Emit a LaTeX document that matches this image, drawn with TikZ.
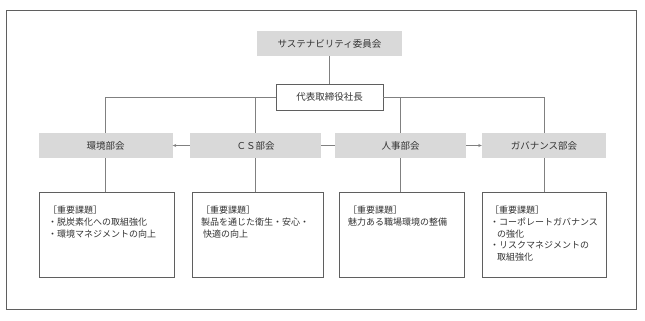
\documentclass[tikz,border=0pt]{standalone}
\usepackage{fontspec}
\usepackage{xcolor}
\usepackage{tikz}
\usetikzlibrary{arrows.meta,positioning}
\newfontfamily\jpfont{Noto Sans CJK JP}
\definecolor{boxgray}{HTML}{D9D9D9}
\definecolor{linegray}{HTML}{808080}
\definecolor{edgegray}{HTML}{5F5F5F}
\definecolor{txtgray}{HTML}{333333}

\begin{document}
\begin{tikzpicture}[
  x=1pt, y=-1pt,
  every node/.style={font=\jpfont\fontsize{9.5}{11.5}\selectfont, text=txtgray},
  cmte/.style={fill=boxgray, minimum width=145pt, minimum height=25pt, inner sep=0pt},
  ceo/.style={draw=edgegray, fill=white, minimum width=107pt, minimum height=26pt, inner sep=0pt},
  dept/.style={fill=boxgray, minimum height=25.5pt, inner sep=0pt},
  task/.style={draw=edgegray, fill=white, minimum height=85pt, inner sep=0pt},
  tasktext/.style={inner sep=0pt, align=left, font=\jpfont\fontsize{9}{11.7}\selectfont},
  conn/.style={draw=linegray, line width=0.7pt},
  arr/.style={conn, -{Stealth[length=3.5pt,width=3pt]}}
]
\useasboundingbox (0,0) rectangle (645,321);
\draw[draw=edgegray, line width=0.8pt] (6.5,10.5) rectangle (636,309.5);

\node [cmte] (sus) at (329.5,43.5) {サステナビリティ委員会};
\node [ceo] (pres) at (329.5,97) {代表取締役社長};

\node [dept, minimum width=134pt] (env) at (105.5,145.5) {環境部会};
\node [dept, minimum width=131pt] (cs) at (255.5,145.5) {ＣＳ部会};
\node [dept, minimum width=131pt] (hr) at (400.5,145.5) {人事部会};
\node [dept, minimum width=124pt] (gov) at (544,145.5) {ガバナンス部会};

\node [task, minimum width=135pt] (envtask) at (106.5,234.5) {};
\node [task, minimum width=131pt] (cstask) at (257.5,234.5) {};
\node [task, minimum width=125pt] (hrtask) at (401.5,234.5) {};
\node [task, minimum width=124pt] (govtask) at (544,234.5) {};

\node [tasktext, below right=14pt and 9pt of envtask.north west] (envtxt)
  {［重要課題］\\・脱炭素化への取組強化\\・環境マネジメントの向上};
\node [tasktext, below right=14pt and 9pt of cstask.north west] (cstxt)
  {［重要課題］\\製品を通じた衛生・安心・\\\hspace{2pt}快適の向上};
\node [tasktext, below right=14pt and 9pt of hrtask.north west] (hrtxt)
  {［重要課題］\\魅力ある職場環境の整備};
\node [tasktext, below right=14pt and 8pt of govtask.north west] (govtxt)
  {［重要課題］\\・コーポレートガバナンス\\\hspace{0.8em}の強化\\・リスクマネジメントの\\\hspace{0.8em}取組強化};

\draw [conn] (sus) -- (pres);
\draw [conn] (pres.west) -| (env.north);
\draw [conn] (pres.east) -| (gov.north);
\draw [conn] (cs.north) -- (cs.north |- pres.west);
\draw [conn] (hr.north) -- (hr.north |- pres.east);
\draw [conn] (env.south) -- (env.south |- envtask.north);
\draw [conn] (cs.south) -- (cs.south |- cstask.north);
\draw [conn] (hr.south) -- (hr.south |- hrtask.north);
\draw [conn] (gov.south) -- (govtask.north);
\draw [arr] (cs.west) -- (env.east);
\draw [conn] (cs.east) -- (hr.west);
\draw [arr] (hr.east) -- (gov.west);
\end{tikzpicture}
\end{document}
